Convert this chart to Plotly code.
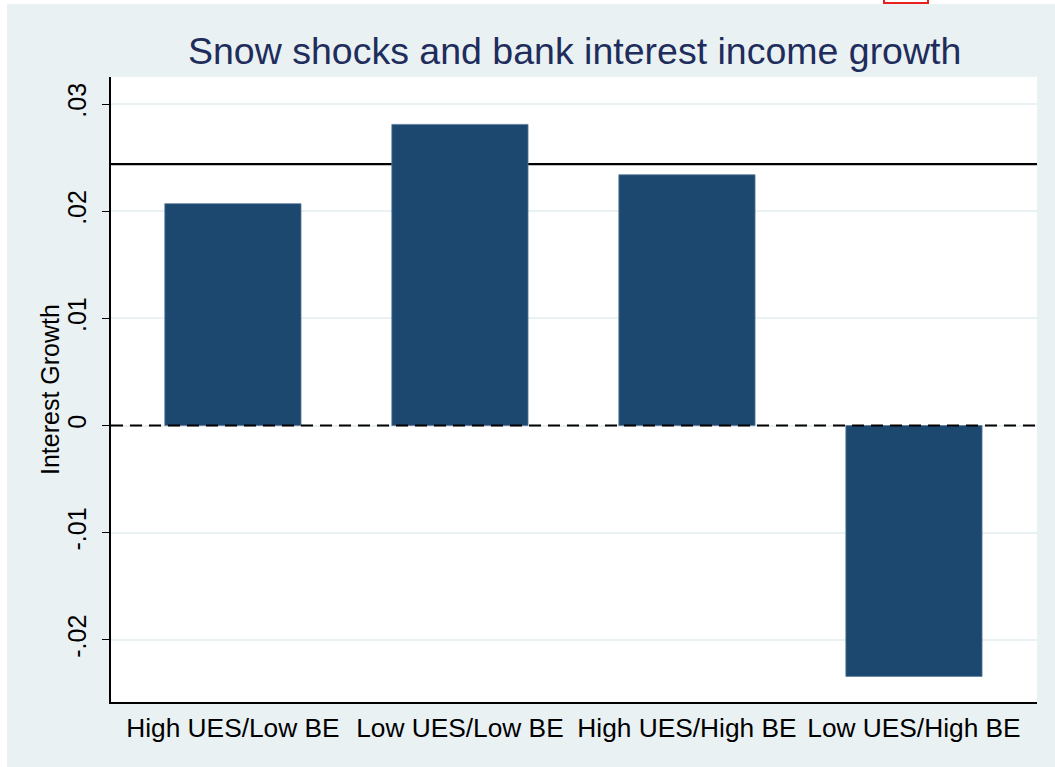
import plotly.graph_objects as go

categories = ["High UES/Low BE", "Low UES/Low BE", "High UES/High BE", "Low UES/High BE"]
values = [0.0207, 0.0281, 0.0234, -0.0234]
mean_line = 0.0244
ytick_vals = [-0.02, -0.01, 0.0, 0.01, 0.02, 0.03]
ytick_text = ["-.02", "-.01", "0", ".01", ".02", ".03"]

BG = "#EAF1F3"
NAVY = "#1C476F"
FONT = "Liberation Sans, Arial, sans-serif"

fig = go.Figure()
fig.add_trace(go.Bar(
    x=categories, y=values, width=0.6,
    marker=dict(color=NAVY, line=dict(color="#5B7B9B", width=0.8)),
    showlegend=False, hoverinfo="x+y",
))

# horizontal reference line (behind bars) and dashed zero line (on top)
fig.add_shape(type="line", xref="paper", x0=0, x1=1, yref="y", y0=mean_line, y1=mean_line,
              line=dict(color="black", width=2.2), layer="between")
fig.add_shape(type="line", xref="paper", x0=0, x1=1, yref="y", y0=0, y1=0,
              line=dict(color="black", width=2, dash="12px,7px"), layer="above")

# page framing: white strips at top/left, cropped red box
L, T, W, H = 111, 77, 926, 625
def px(x):
    return (x - L) / W
def py(y):
    return (T + H - y) / H
fig.add_shape(type="rect", xref="paper", yref="paper", x0=px(-5), x1=px(7), y0=py(-5), y1=py(780),
              fillcolor="white", line=dict(width=0), layer="below")
fig.add_shape(type="rect", xref="paper", yref="paper", x0=px(-5), x1=px(1060), y0=py(-5), y1=py(4),
              fillcolor="white", line=dict(width=0), layer="below")
fig.add_shape(type="rect", xref="paper", yref="paper", x0=px(884), x1=px(928), y0=py(-10), y1=py(3),
              fillcolor="white", line=dict(color="#E8201E", width=2), layer="below")

fig.add_annotation(text="Snow shocks and bank interest income growth", xref="paper", yref="paper",
                   x=0.5, y=py(51), xanchor="center", yanchor="middle", showarrow=False,
                   font=dict(family=FONT, size=37.5, color="#1E2D5C"))
fig.add_annotation(text="Interest Growth", xref="paper", yref="paper",
                   x=px(50), y=py(390), xanchor="center", yanchor="middle", showarrow=False,
                   textangle=-90, font=dict(family=FONT, size=25, color="black"))

fig.update_layout(
    width=1055, height=767,
    margin=dict(l=L, r=1055 - L - W, t=T, b=767 - T - H),
    paper_bgcolor=BG, plot_bgcolor="white",
    font=dict(family=FONT, color="black"),
    bargap=0.4,
)
fig.update_xaxes(
    range=[-0.537, 3.542], showgrid=False, ticks="", zeroline=False,
    showline=True, linecolor="black", linewidth=1.5,
    tickfont=dict(size=26.3, color="black"), ticklabelstandoff=2,
)
fig.update_yaxes(
    range=[-0.02579, 0.03252], tickvals=ytick_vals, ticktext=ytick_text,
    tickangle=-90, ticks="outside", ticklen=7, tickcolor="black", tickwidth=1.2,
    showgrid=True, gridcolor=BG, gridwidth=1.5, zeroline=False,
    showline=True, linecolor="black", linewidth=1.5,
    tickfont=dict(size=25, color="black"), ticklabelstandoff=6,
)

fig.write_html("out.html", config={"displayModeBar": False},
               post_script="document.body.style.margin='0';")
